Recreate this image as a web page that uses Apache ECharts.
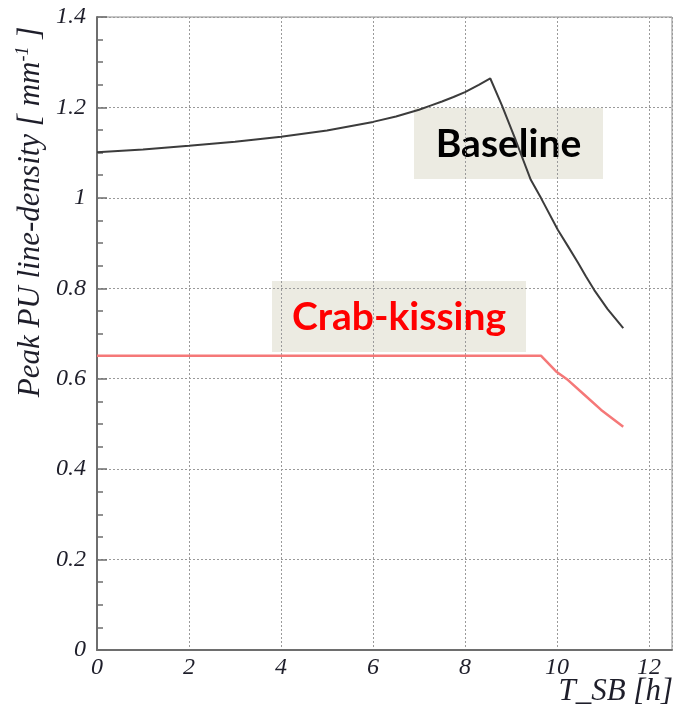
<!DOCTYPE html>
<html>
<head>
<meta charset="utf-8">
<script src="https://cdn.jsdelivr.net/npm/echarts@6/dist/echarts.min.js"></script>
<style>
  html, body { margin: 0; padding: 0; background: #fff; }
  #chart { width: 675px; height: 705px; }
</style>
</head>
<body>
<div id="chart"></div>
<script>
// Peak pile-up line density over the stable-beam time, two levelling scenarios
const baselineT = [0, 1, 2, 3, 4, 5, 6, 6.5, 7, 7.25, 7.5, 7.75, 8, 8.3, 8.55, 8.8, 9.1, 9.43, 9.65, 10.02, 10.25, 10.46, 10.63, 10.81, 11.1, 11.44];
const baselineDensity = [1.101, 1.107, 1.115, 1.124, 1.135, 1.149, 1.168, 1.180, 1.195, 1.204, 1.213, 1.223, 1.234, 1.250, 1.264, 1.205, 1.128, 1.040, 1.000, 0.929, 0.891, 0.856, 0.826, 0.796, 0.754, 0.712];

const crabT = [0, 2, 4, 6, 8, 9.65, 9.98, 10.24, 10.6, 10.96, 11.44];
const crabDensity = [0.651, 0.651, 0.651, 0.651, 0.651, 0.651, 0.616, 0.597, 0.564, 0.531, 0.494];

const xTicks = [0, 2, 4, 6, 8, 10, 12];
const yTicks = [0, 0.2, 0.4, 0.6, 0.8, 1, 1.2, 1.4];

const seriesNames = ['Baseline', 'Crab-kissing'];

function pairs(xs, ys) { return xs.map((x, i) => [x, ys[i]]); }

const serif = "'Liberation Serif', 'Times New Roman', Times, 'DejaVu Serif', serif";
const labelFont = { fontFamily: serif, fontStyle: 'italic', fontSize: 24, color: '#1e1e2a' };
const gridLine = { show: true, lineStyle: { color: '#9a9a9a', type: [2, 2], width: 1 } };

const chart = echarts.init(document.getElementById('chart'), null, { renderer: 'canvas' });

chart.setOption({
  animation: false,
  backgroundColor: '#fff',
  grid: {
    left: 97, right: 3, top: 17, bottom: 55,
    show: true, borderColor: '#8c8c8c', borderWidth: 1, backgroundColor: 'transparent'
  },
  xAxis: {
    type: 'value',
    min: 0, max: 12.5, interval: 2,
    axisLine: { show: true, onZero: false, lineStyle: { color: '#6e6e6e', width: 2 } },
    axisTick: { show: false },
    axisLabel: Object.assign({ margin: 6, showMaxLabel: false,
      formatter: v => (xTicks.indexOf(v) >= 0 ? String(v) : '') }, labelFont),
    splitLine: gridLine
  },
  yAxis: {
    type: 'value',
    min: 0, max: 1.4, interval: 0.2,
    axisLine: { show: true, onZero: false, lineStyle: { color: '#6e6e6e', width: 2 } },
    axisTick: { show: true, inside: true, length: 10, lineStyle: { color: '#6e6e6e', width: 1.5 } },
    minorTick: { show: true, splitNumber: 4, length: 6, lineStyle: { color: '#6e6e6e', width: 1.5 } },
    axisLabel: Object.assign({ margin: 11,
      formatter: v => (yTicks.some(t => Math.abs(t - v) < 1e-9) ? String(+v.toFixed(1)) : '') }, labelFont),
    splitLine: gridLine
  },
  series: [
    {
      name: seriesNames[0],
      type: 'line',
      data: pairs(baselineT, baselineDensity),
      showSymbol: false,
      smooth: false,
      lineStyle: { color: '#3c3c3c', width: 2 },
      z: 3
    },
    {
      name: seriesNames[1],
      type: 'line',
      data: pairs(crabT, crabDensity),
      showSymbol: false,
      smooth: false,
      lineStyle: { color: '#f57878', width: 2.5 },
      z: 3
    }
  ],
  graphic: [
    // axis titles
    {
      type: 'text',
      x: 31, y: 212,
      rotation: Math.PI / 2,
      style: {
        text: '{n|Peak PU line-density [ mm}{s|-1}{n| ]}',
        align: 'center',
        verticalAlign: 'middle',
        rich: {
          n: { fontFamily: serif, fontStyle: 'italic', fontSize: 31, fill: '#1e1e2a', lineHeight: 34 },
          s: { fontFamily: serif, fontStyle: 'italic', fontSize: 18, fill: '#1e1e2a', verticalAlign: 'top', lineHeight: 34 }
        }
      },
      z: 10
    },
    {
      type: 'text',
      x: 673, y: 692,
      style: {
        text: 'T_SB [h]',
        align: 'right',
        verticalAlign: 'middle',
        fontFamily: serif, fontStyle: 'italic', fontSize: 31, fill: '#1e1e2a'
      },
      z: 10
    },
    // scenario tags
    {
      type: 'group',
      x: 414, y: 108,
      z: 20,
      children: [
        { type: 'rect', shape: { x: 0, y: 0, width: 189, height: 71 }, style: { fill: '#ecebe2' } },
        { type: 'text', x: 94.5, y: 36, style: { text: seriesNames[0], align: 'center', verticalAlign: 'middle',
          fontFamily: 'Lato, "Open Sans", sans-serif', fontWeight: 'bold', fontSize: 39, fill: '#000' } }
      ]
    },
    {
      type: 'group',
      x: 272, y: 281,
      z: 20,
      children: [
        { type: 'rect', shape: { x: 0, y: 0, width: 254, height: 71 }, style: { fill: '#ecebe2' } },
        { type: 'text', x: 127, y: 36, style: { text: seriesNames[1], align: 'center', verticalAlign: 'middle',
          fontFamily: 'Lato, "Open Sans", sans-serif', fontWeight: 'bold', fontSize: 39, fill: '#ff0000' } }
      ]
    }
  ]
});
</script>
</body>
</html>
